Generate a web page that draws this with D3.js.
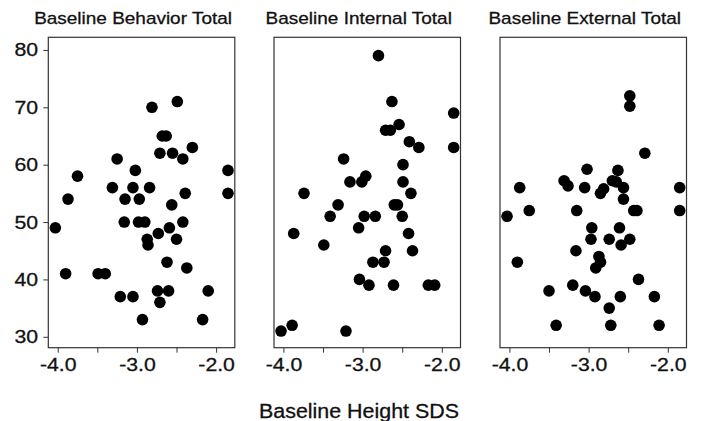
<!DOCTYPE html>
<html>
<head>
<meta charset="utf-8">
<script src="https://cdn.jsdelivr.net/npm/d3@7"></script>
<style>
  html, body { margin: 0; padding: 0; background: #ffffff; }
  #chart { width: 702px; height: 421px; }
  text { font-family: "Liberation Sans", Arial, sans-serif; fill: #111; stroke: #111; stroke-width: 0.3px; }
</style>
</head>
<body>
<div id="chart"></div>
<script>
var panelTitles = ['Baseline Behavior Total', 'Baseline Internal Total', 'Baseline External Total'];
var xTicks = [-4.0, -3.5, -3.0, -2.5, -2.0];
var yTicks = [30, 40, 50, 60, 70, 80];
var xLabel = 'Baseline Height SDS';

var behaviorX = [-2.81, -2.49, -2.68, -2.63, -2.71, -2.55, -2.42, -2.30, -3.25, -3.75, -3.02, -1.85, -3.31, -3.05, -2.84, -2.39, -1.85, -3.87, -3.15, -2.97, -2.56,
                 -4.03, -3.16, -2.98, -2.90, -2.73, -2.59, -2.42, -2.50, -2.87, -2.86, -2.62, -2.37, -3.90, -3.49, -3.40, -2.74, -2.60, -2.10, -3.21, -3.05, -2.71, -2.93, -2.17];
var behaviorY = [70, 71, 65, 65, 62, 62, 61, 63, 61, 58, 59, 59, 56, 56, 56, 55, 55, 54, 54, 54, 53,
                 49, 50, 50, 50, 48, 49, 50, 47, 47, 46, 43, 42, 41, 41, 41, 38, 38, 38, 37, 37, 36, 33, 33];

var internalX = [-2.80, -2.63, -1.85, -2.54, -2.71, -2.65, -2.41, -2.29, -1.85, -3.24, -2.49, -3.16, -3.01, -2.96, -2.49, -3.74, -2.39,
                 -3.31, -2.60, -2.56, -3.41, -2.98, -2.84, -2.50, -3.87, -3.05, -2.42, -3.49, -2.71, -2.37, -2.87, -2.73, -3.04, -2.92, -2.61, -2.17, -2.09, -3.89, -4.03, -3.21];
var internalY = [79, 71, 69, 67, 66, 66, 64, 63, 63, 61, 60, 57, 57, 58, 57, 55, 55,
                 53, 53, 53, 51, 51, 51, 51, 48, 49, 48, 46, 45, 45, 43, 43, 40, 39, 39, 39, 39, 32, 31, 31];

var externalX = [-2.48, -2.48, -2.29, -3.02, -2.63, -3.31, -3.26, -3.05, -3.87, -2.70, -2.65, -1.85, -2.81, -2.85, -2.56, -2.56,
                 -4.03, -3.75, -3.15, -2.43, -2.39, -1.85, -2.96, -2.61, -2.97, -2.74, -2.48, -2.59, -3.16, -2.87, -2.85, -2.91, -3.90, -2.37, -3.50, -3.20, -3.04, -2.92, -2.60, -2.17, -2.74, -3.41, -2.72, -2.11];
var externalY = [72, 70.2, 62, 59.2, 59, 57.2, 56.3, 56, 56, 57.2, 57, 56, 55.8, 55, 56, 54,
                 51, 52, 52, 52, 52, 52, 49, 49, 47, 47, 47, 46, 45, 44, 43, 42, 43, 40, 38, 39, 38, 37, 37, 37, 35, 32, 32, 32];

(function () {
  var W = 702, H = 421;
  var STRETCH = 1.13;          // glyphs in the reference are a bit wide
  var PANEL_W = 186.5, PANEL_TOP = 37.3, PANEL_BOTTOM = 347.7;
  var panelLeft = [48.3, 274, 500];
  var DOT_R = 5.8;

  var series = [
    { x: behaviorX, y: behaviorY },
    { x: internalX, y: internalY },
    { x: externalX, y: externalY }
  ];

  var svg = d3.select('#chart')
    .append('svg')
    .attr('width', W)
    .attr('height', H);

  var y = d3.scaleLinear()
    .domain([28.1, 82.2])
    .range([PANEL_BOTTOM, PANEL_TOP]);

  var fmt = function (d) { return d % 1 === 0 ? d.toFixed(1) : ''; };

  panelLeft.forEach(function (left, i) {
    var x = d3.scaleLinear()
      .domain([-4.119, -1.764])
      .range([left, left + PANEL_W]);

    var pts = series[i].x.map(function (v, j) { return { x: v, y: series[i].y[j] }; });

    // frame
    svg.append('rect')
      .attr('x', left)
      .attr('y', PANEL_TOP)
      .attr('width', PANEL_W)
      .attr('height', PANEL_BOTTOM - PANEL_TOP)
      .attr('fill', 'none')
      .attr('stroke', '#333')
      .attr('stroke-width', 1.2);

    var gx = svg.append('g')
      .attr('transform', 'translate(0,' + PANEL_BOTTOM + ')')
      .call(d3.axisBottom(x).tickValues(xTicks).tickFormat(fmt).tickSize(5).tickPadding(5));
    gx.select('.domain').remove();
    gx.selectAll('line').attr('stroke', '#333');
    gx.selectAll('text')
      .attr('font-size', 18.8)
      .attr('fill', '#111')
      .attr('transform', 'scale(' + STRETCH + ',1)');

    if (i === 0) {
      var gy = svg.append('g')
        .attr('transform', 'translate(' + left + ',0)')
        .call(d3.axisLeft(y).tickValues(yTicks).tickSize(5).tickPadding(4));
      gy.select('.domain').remove();
      gy.selectAll('line').attr('stroke', '#333');
      gy.selectAll('text')
        .attr('font-size', 18.8)
        .attr('fill', '#111')
        .attr('transform', 'scale(' + STRETCH + ',1)');
    }

    svg.append('g')
      .selectAll('circle')
      .data(pts)
      .join('circle')
      .attr('cx', function (d) { return x(d.x); })
      .attr('cy', function (d) { return y(d.y); })
      .attr('r', DOT_R)
      .attr('fill', '#000');

    var cx = left + PANEL_W / 2 - 8.5;
    var t = svg.append('text')
      .attr('text-anchor', 'middle')
      .attr('font-size', 16.8)
      .text(panelTitles[i]);
    var tw = t.node().getComputedTextLength() * STRETCH;
    cx = Math.min(cx, 692 - tw / 2);
    t.attr('transform', 'translate(' + cx + ',24) scale(' + STRETCH + ',1)');
  });

  svg.append('text')
    .attr('text-anchor', 'middle')
    .attr('font-size', 19.3)
    .attr('transform', 'translate(359,417.5) scale(1.11,1)')
    .text(xLabel);
})();
</script>
</body>
</html>
